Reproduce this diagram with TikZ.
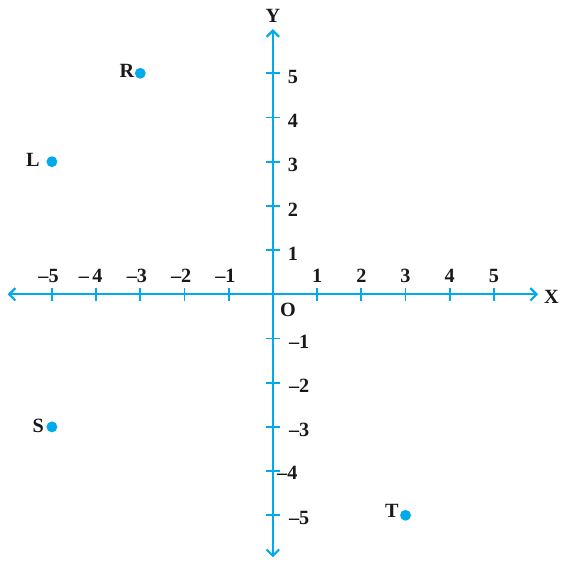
\documentclass[tikz,border=0pt]{standalone}
\usepackage{fontspec}
\setmainfont{Liberation Serif}
\usetikzlibrary{arrows.meta}
\definecolor{axblue}{RGB}{0,170,235}
\tikzset{
  axis/.style={draw=axblue, line width=1.4pt, {Straight Barb[length=4pt,width=8pt,line width=1.4pt]}-{Straight Barb[length=4pt,width=8pt,line width=1.4pt]}},
  tick/.style={draw=axblue, line width=1.2pt},
  lab/.style={font=\bfseries\fontsize{13}{15}\selectfont, inner sep=0pt, text=black!90},
  pt/.style={circle, fill=axblue, inner sep=0pt, minimum size=7pt}
}
\begin{document}
\begin{tikzpicture}[x=1cm,y=1cm]
\useasboundingbox (-6.174,-6.034) rectangle (6.563,6.658);
\coordinate (xl) at (-6,0);
\coordinate (xr) at (6,0);
\coordinate (yb) at (0,-5.95);
\coordinate (yt) at (0,6);
\draw[axis] (xl) -- (xr);
\draw[axis] (yb) -- (yt);
\foreach \i in {-5,...,-1,1,2,...,5} {
  \draw[tick] (\i,-0.15) -- (\i,0.15);
  \draw[tick] (-0.15,\i) -- (0.15,\i);
}
\foreach \i in {1,...,5} {
  \node[lab] (xp\i) at (\i,0.42) {\i};
  \node[lab, anchor=west] (yp\i) at (0.33,\i-0.08) {\i};
}
\foreach \i in {1,2,3,5} {
  \node[lab, anchor=east] (xn\i) at (-\i+0.16,0.42) {–\i};
  \node[lab, anchor=west] (yn\i) at (0.36,-\i-0.07) {–\i};
}
\node[lab, anchor=east] (xn4) at (-4+0.15,0.42) {–\,4};
\node[lab, anchor=west] (yn4) at (0.09,-4-0.03) {–4};
\node[lab] (O) at (0.34,-0.35) {O};
\node[lab] (X) at (6.3,-0.05) {X};
\node[lab] (Y) at (0,6.3) {Y};
\node[pt] (R) at (-3,5) {};
\node[pt] (L) at (-5,3) {};
\node[pt] (S) at (-5,-3) {};
\node[pt] (T) at (3,-5) {};
\node[lab] (Rl) at (-3.30,5.05) {R};
\node[lab] (Ll) at (-5.43,3.04) {L};
\node[lab] (Sl) at (-5.31,-2.98) {S};
\node[lab] (Tl) at (2.69,-4.90) {T};
\end{tikzpicture}
\end{document}
